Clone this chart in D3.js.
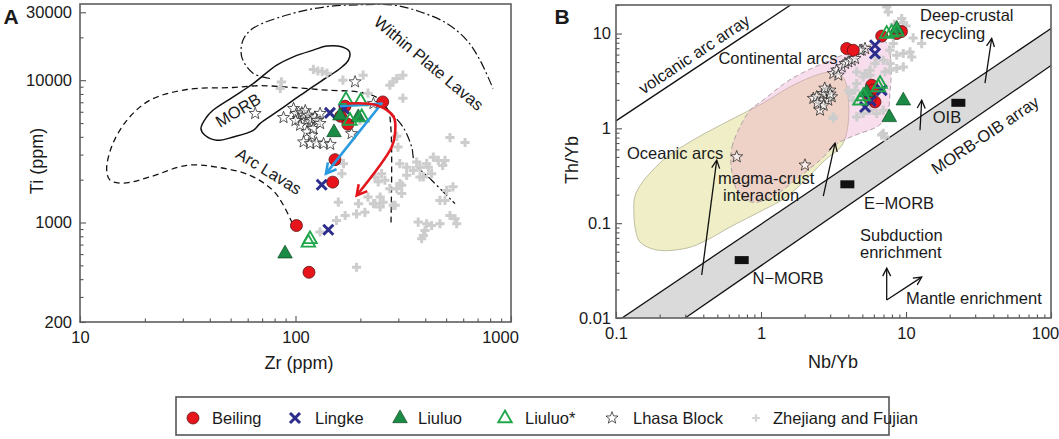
<!DOCTYPE html>
<html><head><meta charset="utf-8">
<script src="https://cdn.jsdelivr.net/npm/d3@7"></script>
<style>body{margin:0;background:#fff;} svg text{font-family:"Liberation Sans",Arial,sans-serif;fill:#1a1a1a;}</style>
</head><body>
<svg id="c" width="1059" height="439"></svg>
<script>
// ---------------- DATA: panel A (Zr ppm, Ti ppm) ----------------
const beilingA = [[101,952],[115.5,447],[152.5,2764],[148.8,1922],[254,7035],[169.7,6560],[162,5570],[175,4900]];
const lingkeA = [[144.5,5890],[132.3,1843],[142,889],[168,6300]];
const liuluoA = [[150.9,4326],[160.9,5670],[195.6,5515],[89.4,608]];
const liuluoStarA = [[171.5,7310],[200.7,7140],[179,5220],[203,5515],[114.7,726],[116.8,768]];
const lhasaA = [[65,5830],[88,5460],[98,6320],[101,5830],[103,5370],[107,5900],[109,5670],[111,6100],[113,5230],[115,5670],[117,5090],[119,5300],[123,5510],[126,5200],[130,5830],[105,4820],[113,4330],[119,4100],[109,3680],[117,3580],[125,3620],[135,3580],[145,3540],[121,4570],[130,4960],[182,4210],[189,9730],[230,6850],[100,5200]];
const zhejiangA = [[121,11900],[127,11600],[133,11500],[140,11200],[86,9730],[85,8740],[166,10000],[217,8100],[283,9730],[295,10280],[315,10845],[315,7470],[206,10845],[274,9220],[295,4035],[299,3390],[521,3950],[612,3650],[365,2660],[406,2590],[436,2880],[460,2730],[482,2520],[494,2730],[352,2320],[328,2146],[378,2090],[428,2205],[305,2590],[328,2450],[378,2450],[413,2450],[392,2090],[251,2205],[260,1982],[234,2090],[242,1930],[311,1830],[305,1880],[295,1730],[274,1730],[217,1510],[247,1510],[234,1356],[247,1285],[255,1390],[284,1320],[210,1180],[167,2590],[164,2205],[538,1780],[503,1680],[468,1430],[494,1430],[521,1120],[550,1063],[560,980],[371,1007],[406,980],[428,953],[468,980],[399,880],[392,812],[385,770],[158,1390],[170,1120],[192,1150],[196,1356],[230,1356],[311,1600],[290,1320],[192,485],[155,1035],[130,858],[199,5227]];
// field boundaries, panel A
const morbField = [[36.4,4570],[38.7,5514],[41.4,6146],[51.4,7630],[63.7,9480],[81.8,12750],[97.7,14590],[121,16270],[139.6,17360],[163.8,17160],[178,15830],[176,13830],[160.9,12090],[139.6,10450],[116.8,8740],[97.7,7230],[81.8,5980],[68.4,4955],[63.7,4446],[51.4,3990],[43.1,3780],[38,4100]];
const arcLavas = [[277.5,1000],[277.5,4446],[268.7,6146],[241.4,7470],[199.3,8233],[140,8504],[97.4,8885],[68.4,9148],[51.3,8885],[31.3,8600],[21.1,7230],[16.5,5227],[14.0,3390],[13.3,2321],[13.8,1982],[15.9,1891],[21.1,2090],[31.3,2522],[43.1,2450],[61.5,2146],[78.6,1680],[87.5,1339],[96.3,1000]];
const withinPlate1 = [[76.1,10280],[63.5,11200],[56.3,14590],[57.1,19130],[63.5,23130],[97.4,29490],[139.6,32830],[199.3,33900],[283.5,33750],[378.2,30270],[503,25080],[623,19130],[718,13830],[825,8740]];
const withinPlate2 = [[260.2,6486],[315.3,4691],[346,3390],[358.5,2603],[428.5,1982],[550,1356]];
const blueArrow = [[160.9,6560],[251,6855],[138.5,2205]];
const redArrow = [[172.8,6855],[238.2,6668],[285.5,5514],[289.6,4213],[279.6,3390],[192.3,1549]];
// axis ticks, panel A
const xTicksA = [10,100,1000], xTickLabelsA = ["10","100","1000"];
const yTicksA = [200,1000,10000,30000], yTickLabelsA = ["200","1000","10000","30000"];
const xMinorA = [20,30,40,50,60,70,80,90,200,300,400,500,600,700,800,900];
const yMinorA = [300,400,500,600,700,800,900,2000,3000,4000,5000,6000,7000,8000,9000,20000];

// ---------------- DATA: panel B (Nb/Yb, Th/Yb) ----------------
const beilingB = [[3.9,6.95],[4.33,6.67],[5.8,2.85],[5.95,2.53],[6.11,1.9],[5.65,2.07],[6.8,9.4],[8.63,10],[9.3,10.5]];
const lingkeB = [[6.11,7.53],[6.11,6.16],[5.22,1.68],[6.8,2.53],[5.7,1.95]];
const liuluoB = [[9.58,1.98],[7.67,1.32],[5.36,2.42],[8.63,11.3]];
const liuluoStarB = [[4.82,1.98],[5.08,2.2],[6.44,2.74],[6.62,2.97],[7.36,10],[7.97,10.3],[8.63,10.6]];
const lhasaB = [[0.68,0.501],[2.01,0.41],[2.552,1.555],[2.295,2.07],[2.622,1.98],[2.84,2.42],[2.992,2.53],[2.912,1.98],[3.074,2.15],[2.689,2.33],[2.422,2.15],[3.152,3.79],[3.328,4.11],[3.603,4.45],[3.797,4.83],[4.0,5.02],[4.223,5.23],[3.413,3.64],[4.449,5.45],[4.95,6.67],[5.216,6.95],[4.817,6.67],[2.7,1.75],[2.45,1.85],[3.0,2.3],[2.75,2.65]];
const zhejiangB = [[7.36,19.07],[7.55,16.89],[9.34,14.39],[9.6,13],[10,12],[11.2,9],[8.3,12.5],[12.83,7.84],[10.66,6.4],[10.95,5.67],[9.58,6.16],[8.63,5.91],[7.76,6.67],[8.17,7.84],[6.11,4.83],[5.645,4.11],[5.216,3.79],[7.17,3.94],[4.571,2.97],[4.449,2.53],[4.0,2.53],[4.571,1.32],[5.077,1.435],[5.645,1.555],[6.975,0.884],[7.17,0.813],[3.152,1.32],[6.28,5.67],[6.975,5.23],[7.76,4.83],[7.76,4.11],[8.63,4.28],[9.58,4.45],[4.571,3.94],[5.077,3.49],[5.645,3.64],[4.11,2.33],[4.33,1.98],[3.152,1.27],[6.975,1.555],[6.28,1.435],[6.8,0.85]];
const refNames = ["N−MORB","E−MORB","OIB"];
const refNb = [0.736,3.94,22.96];
const refTh = [0.0408,0.257,1.86];
const oceanicArcField = [[0.1374,0.2076],[0.2109,0.462],[0.3396,0.751],[0.611,1.22],[1.032,1.843],[1.772,2.995],[2.992,3.91],[3.677,3.463],[3.98,2.24],[3.98,1.081],[3.62,0.665],[2.764,0.462],[1.858,0.252],[1.464,0.1839],[1.032,0.1374],[0.611,0.091],[0.4243,0.0664],[0.3088,0.0547],[0.1918,0.0521],[0.1464,0.0632],[0.1374,0.0806],[0.133,0.1217]];
const continentalArcField = [[0.621,0.41],[0.631,0.634],[0.683,0.89],[0.84,1.555],[1.032,1.98],[1.585,3.26],[2.677,4.86],[4.11,6.35],[5.83,7.71],[7.28,8.1],[7.88,4.985],[7.76,2.406],[7.4,1.377],[6.41,1.055],[4.667,0.869],[3.396,0.698],[2.552,0.462],[1.716,0.2846],[1.191,0.1884],[0.867,0.1668],[0.694,0.2127]];
const volcanicArcLine = [[0.1,1.2],[1.6,20]];
const morbOibUpper = [[0.11,0.01],[100,11.3]];
const morbOibLower = [[0.3,0.01],[100,4.6]];
const arrowsB = [
  [[0.39,0.0284],[0.495,0.462]],
  [[2.689,0.193],[3.24,0.698]],
  [[12.49,0.957],[12.83,1.98]],
  [[35.05,2.995],[38.99,8.86]],
  [[7.36,0.01547],[7.36,0.0336]],
  [[7.36,0.01547],[12.83,0.027]]
];
const xTicksB = [0.1,1,10,100], xTickLabelsB = ["0.1","1","10","100"];
const yTicksB = [0.01,0.1,1,10], yTickLabelsB = ["0.01","0.1","1","10"];
const minorsB = [];
[0.1,1,10].forEach(d=>{for(let k=2;k<=9;k++) minorsB.push(d*k);});
const yMinorB = [];
[0.01,0.1,1,10].forEach(d=>{for(let k=2;k<=9;k++) if(d*k<=20) yMinorB.push(d*k);});

// legend
const legendNames = ["Beiling","Lingke","Liuluo","Liuluo*","Lhasa Block","Zhejiang and Fujian"];
const legendKeys = ["circle","x","tri","otri","star","plus"];

// ---------------- DRAW ----------------
const svg = d3.select('#c');
const defs = svg.append('defs');
const xA = d3.scaleLog().domain([10,1000]).range([80,511]);
const yA = d3.scaleLog().domain([200,34300]).range([322,4]);
const xB = d3.scaleLog().domain([0.1,100]).range([616,1051]);
const yB = d3.scaleLog().domain([0.01,20]).range([318,5]);

function clip(id,x,y){
  defs.append('clipPath').attr('id',id).append('rect')
   .attr('x',x.range()[0]).attr('y',y.range()[1])
   .attr('width',x.range()[1]-x.range()[0]).attr('height',y.range()[0]-y.range()[1]);
}
clip('clipA',xA,yA); clip('clipB',xB,yB);

function marker(id,color,w,len,half){
  defs.append('marker').attr('id',id).attr('markerUnits','userSpaceOnUse')
   .attr('viewBox',`${-len-3} ${-half-3} ${len+6} ${2*half+6}`)
   .attr('markerWidth',len+6).attr('markerHeight',2*half+6)
   .attr('refX',0).attr('refY',0).attr('orient','auto')
   .append('path').attr('d',`M${-len},${-half}L0,0L${-len},${half}`)
   .attr('fill','none').attr('stroke',color).attr('stroke-width',w).attr('stroke-linejoin','miter');
}
marker('mBlue','#2a9be0',2.6,10,5.5);
marker('mRed','#e4161d',2.6,10,5.5);
marker('mBlk','#111',1.3,8,4);

// symbol paths
const starPath = R => {let p=[];for(let i=0;i<10;i++){const r=i%2?R*0.42:R;const a=-Math.PI/2+i*Math.PI/5;p.push([(r*Math.cos(a)).toFixed(2),(r*Math.sin(a)).toFixed(2)]);}return 'M'+p.map(d=>d.join(',')).join('L')+'Z';};
const triPath = s => `M0,${-s*0.62}L${s*0.56},${s*0.36}L${-s*0.56},${s*0.36}Z`;
const xPath = s => `M${-s},${-s}L${s},${s}M${-s},${s}L${s},${-s}`;
const plusPath = (s,w) => `M${-w},${-s}h${2*w}v${s-w}h${s-w}v${2*w}h${-(s-w)}v${s-w}h${-2*w}v${-(s-w)}h${-(s-w)}v${-2*w}h${s-w}Z`;

const ident = v => v;
function drawSym(g,key,pts,x,y,big){
  x = x || ident; y = y || ident;
  const sel = g.selectAll(null).data(pts).enter();
  const tr = d => `translate(${x(d[0])},${y(d[1])})`;
  if(key==='circle') sel.append('circle').attr('cx',d=>x(d[0])).attr('cy',d=>y(d[1])).attr('r',6)
     .attr('fill','#e8141c').attr('stroke','#5b1414').attr('stroke-width',0.8);
  if(key==='x') sel.append('path').attr('transform',tr).attr('d',xPath(5)).attr('stroke','#2b2c8c').attr('stroke-width',3).attr('fill','none');
  if(key==='tri') sel.append('path').attr('transform',tr).attr('d',triPath(13)).attr('fill','#1a8a44').attr('stroke','#0e4a24').attr('stroke-width',0.7);
  if(key==='otri') sel.append('path').attr('transform',tr).attr('d',triPath(12)).attr('fill','none').attr('stroke','#1fa64b').attr('stroke-width',1.9);
  if(key==='star') sel.append('path').attr('transform',tr).attr('d',starPath(6.3)).attr('fill','#fff').attr('fill-opacity',0.6).attr('stroke','#222').attr('stroke-width',0.75);
  if(key==='plus') sel.append('path').attr('transform',tr).attr('d',big?plusPath(4.6,1.5):plusPath(3.8,1.1)).attr('fill',big?'#cdcdcd':'#d4d4d4');
}

function axes(g,x,y,xMaj,xLab,xMin,yMaj,yLab,yMin,padY){
  const b=y.range()[0], l=x.range()[0];
  const style = s => { s.select('.domain').remove(); s.attr('font-size',16.5).attr('font-family','"Liberation Sans",Arial,sans-serif'); s.selectAll('line').attr('stroke','#555').attr('stroke-width',1.1); };
  g.append('g').attr('transform',`translate(0,${b})`).call(d3.axisBottom(x).tickValues(xMin).tickSize(-3.5).tickFormat('')).call(style);
  g.append('g').attr('transform',`translate(${l},0)`).call(d3.axisLeft(y).tickValues(yMin).tickSize(-3.5).tickFormat('')).call(style);
  const xa = g.append('g').attr('transform',`translate(0,${b})`).call(d3.axisBottom(x).tickValues(xMaj).tickSizeInner(-6).tickSizeOuter(0).tickPadding(9).tickFormat((d,i)=>xLab[i])).call(style);
  const ya = g.append('g').attr('transform',`translate(${l},0)`).call(d3.axisLeft(y).tickValues(yMaj).tickSizeInner(-6).tickSizeOuter(0).tickPadding(padY).tickFormat((d,i)=>yLab[i])).call(style);
  g.append('rect').attr('x',l).attr('y',y.range()[1]).attr('width',x.range()[1]-l).attr('height',b-y.range()[1])
   .attr('fill','none').attr('stroke','#5e5e5e').attr('stroke-width',1.6);
  return [xa,ya];
}

function text(g,t,x,y,o={}){
  const e=g.append('text').attr('x',x).attr('y',y).attr('text-anchor',o.anchor||'middle')
   .attr('dominant-baseline','central').attr('font-size',o.size||16.5).text(t);
  if(o.rot) e.attr('transform',`rotate(${o.rot},${x},${y})`);
  if(o.bold) e.attr('font-weight','bold');
  return e;
}

// ===== Panel A =====
const gA = svg.append('g');
const pA = gA.append('g').attr('clip-path','url(#clipA)');
const lineA = d3.line().x(d=>xA(d[0])).y(d=>yA(d[1]));
pA.append('path').attr('d',lineA.curve(d3.curveCatmullRomClosed)(morbField)).attr('fill','none').attr('stroke','#111').attr('stroke-width',1.5);
pA.append('path').attr('d',lineA.curve(d3.curveCatmullRom)(arcLavas)).attr('fill','none').attr('stroke','#111').attr('stroke-width',1.3).attr('stroke-dasharray','6,4');
[withinPlate1,withinPlate2].forEach(w=>pA.append('path').attr('d',lineA.curve(d3.curveCatmullRom)(w)).attr('fill','none').attr('stroke','#111').attr('stroke-width',1.2).attr('stroke-dasharray','9,3,2,3'));
drawSym(pA,'plus',zhejiangA,xA,yA,true);
drawSym(pA,'star',lhasaA,xA,yA);
drawSym(pA,'circle',beilingA,xA,yA);
drawSym(pA,'x',lingkeA,xA,yA);
drawSym(pA,'tri',liuluoA,xA,yA);
drawSym(pA,'otri',liuluoStarA,xA,yA);
pA.append('path').attr('d',d3.line().x(d=>xA(d[0])).y(d=>yA(d[1]))(blueArrow)).attr('fill','none').attr('stroke','#2a9be0').attr('stroke-width',2.6).attr('stroke-linejoin','round').attr('marker-end','url(#mBlue)');
pA.append('path').attr('d',d3.line().x(d=>xA(d[0])).y(d=>yA(d[1])).curve(d3.curveCatmullRom)(redArrow)).attr('fill','none').attr('stroke','#e4161d').attr('stroke-width',2.6).attr('marker-end','url(#mRed)');
const [xaA] = axes(gA,xA,yA,xTicksA,xTickLabelsA,xMinorA,yTicksA,yTickLabelsA,yMinorA,8);
xaA.selectAll('.tick text').filter(d=>d===1000).attr('dx',-11);
text(gA,'MORB',238,110,{rot:-31.5});
text(gA,'Arc Lavas',269,171,{rot:31.5});
text(gA,'Within Plate Lavas',429,63,{rot:40});
text(gA,'Zr (ppm)',299,363,{size:18});
text(gA,'Ti (ppm)',37,161,{size:18,rot:-90});
text(gA,'A',11,16,{size:21,bold:true});

// ===== Panel B =====
const gB = svg.append('g');
const pB = gB.append('g').attr('clip-path','url(#clipB)');
const lineB = d3.line().x(d=>xB(d[0])).y(d=>yB(d[1]));
pB.append('path').attr('d',lineB.curve(d3.curveCatmullRomClosed)(oceanicArcField)).attr('fill','#efeec6').attr('stroke','#b9b89c').attr('stroke-width',0.9);
pB.append('path').attr('d',lineB.curve(d3.curveCatmullRomClosed)(continentalArcField)).attr('fill','rgb(235,161,201)').attr('fill-opacity',0.36).attr('stroke','#a99aa0').attr('stroke-width',0.9).attr('stroke-dasharray','5,3');
const band = [morbOibUpper[0],morbOibUpper[1],morbOibLower[1],morbOibLower[0]];
pB.append('path').attr('d',lineB.curve(d3.curveLinearClosed)(band)).attr('fill','#dadada');
[morbOibUpper,morbOibLower,volcanicArcLine].forEach(l=>pB.append('path').attr('d',lineB.curve(d3.curveLinear)(l)).attr('fill','none').attr('stroke','#111').attr('stroke-width',1.3));
pB.selectAll(null).data(refNb).enter().append('rect')
  .attr('x',(d)=>xB(d)-7).attr('y',(d,i)=>yB(refTh[i])-4).attr('width',14).attr('height',8).attr('fill','#111');
arrowsB.forEach(a=>pB.append('path').attr('d',lineB.curve(d3.curveLinear)(a)).attr('fill','none').attr('stroke','#111').attr('stroke-width',1.3).attr('marker-end','url(#mBlk)'));
drawSym(pB,'plus',zhejiangB,xB,yB,true);
drawSym(pB,'star',lhasaB,xB,yB);
drawSym(pB,'circle',beilingB,xB,yB);
drawSym(pB,'x',lingkeB,xB,yB);
drawSym(pB,'tri',liuluoB,xB,yB);
drawSym(pB,'otri',liuluoStarB,xB,yB);
const [xaB] = axes(gB,xB,yB,xTicksB,xTickLabelsB,minorsB,yTicksB,yTickLabelsB,yMinorB,5);
xaB.selectAll('.tick text').filter(d=>d===100).attr('dx',-6);
text(gB,'volcanic arc array',694,54,{rot:-33.5});
text(gB,'Continental arcs',778,58);
text(gB,'Deep-crustal',920,15,{anchor:'start'});
text(gB,'recycling',920,33,{anchor:'start'});
text(gB,'OIB',947,117);
text(gB,'MORB-OIB array',985,135,{rot:-34});
text(gB,refNames[1],899,203);
text(gB,refNames[0],788,278);
text(gB,'Subduction',860,235,{anchor:'start'});
text(gB,'enrichment',860,252,{anchor:'start'});
text(gB,'Mantle  enrichment',906,298,{anchor:'start'});
text(gB,'Oceanic arcs',627,153,{anchor:'start'});
text(gB,'magma-crust',718,178,{anchor:'start'});
text(gB,'interaction',723,195,{anchor:'start'});
text(gB,'Nb/Yb',833,362,{size:18});
text(gB,'Th/Yb',572,160,{size:18,rot:-90});
text(gB,'B',562,16,{size:21,bold:true});

// ===== Legend =====
const gL = svg.append('g');
gL.append('rect').attr('x',176).attr('y',397).attr('width',713).attr('height',38).attr('fill','#fff').attr('stroke','#555').attr('stroke-width',1.6);
const legSymX = [193,295,400,505,612,756];
const legTxtX = [212,315,418,525,633,773];
legendKeys.forEach((k,i)=>{
  drawSym(gL,k,[[legSymX[i],418]],null,null,false);
  text(gL,legendNames[i],legTxtX[i],418,{anchor:'start'});
});
</script>
</body></html>
